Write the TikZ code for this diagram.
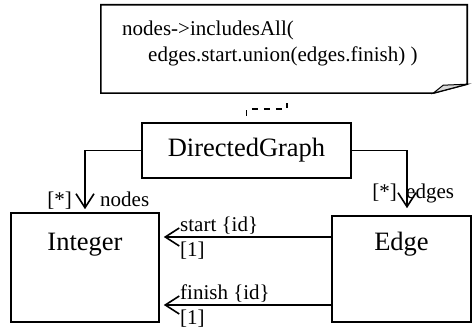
\documentclass[tikz,border=0pt]{standalone}
\usepackage{fontspec}
\setmainfont{Liberation Serif}
\usetikzlibrary{arrows.meta,calc}

\begin{document}
\begin{tikzpicture}[x=1pt,y=1pt,
	classbox/.style={draw,line width=1.6pt,inner sep=0pt},
	assoc/.style={line width=1.6pt,-{Straight Barb[length=14pt,width=18pt]}},
	big/.style={font=\fontsize{26.5}{30}\selectfont,inner sep=0pt},
	small/.style={font=\fontsize{21}{25}\selectfont,inner sep=0pt}]
	\useasboundingbox (0,0) rectangle (472,329);
	% constraint note
	\node[minimum width=366pt,minimum height=88pt,inner sep=0pt] (cons) at (284,280) {};
	\draw[line width=1.6pt] (cons.north west) -- (cons.north east) -- ($(cons.south east)+(0,9)$) coordinate (fold) -- ($(cons.south east)+(-34,0)$) coordinate (foldb) -- (cons.south west) -- cycle;
	\filldraw[fill=gray!30,line width=1pt] (foldb) -- ($(foldb)+(10,8)$) -- (fold) -- cycle;
	\node[small,anchor=base west] (line1) at (122,293) {nodes->includesAll(};
	\node[small,anchor=base west] (line2) at (148,267) {edges.start.union(edges.finish) )};
	% classes
	\node[classbox,big,minimum width=209pt,minimum height=55pt] (dg) at (246.5,178.5) {DirectedGraph};
	\node[classbox,minimum width=148pt,minimum height=109pt] (int) at (85,61.5) {};
	\node[big,anchor=base] (intname) at (85,78) {Integer};
	\node[classbox,minimum width=139pt,minimum height=106pt] (edge) at (401.5,60) {};
	\node[big,anchor=base] (edgename) at (401.5,78) {Edge};
	% constraint tie
	\coordinate (constie) at (287,226);
	\draw[line width=1.6pt,dash pattern=on 6pt off 6pt,dash phase=5.5pt] (dg.north) |- ($(constie)+(0,-6)$) -- (constie);
	% associations
	\draw[assoc,shorten >=3pt] (dg.west) -| (int.north);
	\draw[assoc,shorten >=7pt] (dg.east) -| ([xshift=5.5pt]edge.north);
	\draw[assoc,shorten >=4pt] ([yshift=32pt]edge.west) -- ([yshift=32pt]edge.west -| int.east);
	\draw[assoc,shorten >=4pt] ([yshift=-36pt]edge.west) -- ([yshift=-36pt]edge.west -| int.east);
	% role names and multiplicities
	\node[small,anchor=base east] (nodesmul) at (72,122) {[*]};
	\node[small,anchor=base west] (nodesrole) at (100,122) {nodes};
	\node[small,anchor=base east] (edgesmul) at (397,130) {[*]};
	\node[small,anchor=base west] (edgesrole) at (406,130) {edges};
	\node[small,anchor=base west] (startrole) at (180,97) {start \{id\}};
	\node[small,anchor=base west] (startmul) at (180,72) {[1]};
	\node[small,anchor=base west] (finishrole) at (180,29) {finish \{id\}};
	\node[small,anchor=base west] (finishmul) at (180,4) {[1]};
\end{tikzpicture}
\end{document}
